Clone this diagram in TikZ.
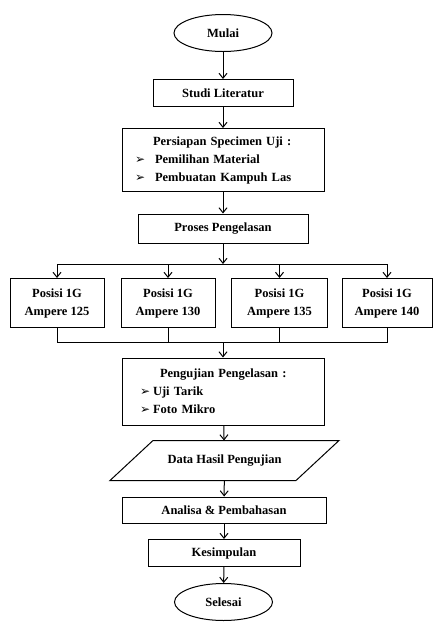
\documentclass[tikz,border=0pt]{standalone}
\usepackage{fontspec}
\setmainfont{Liberation Serif}
\newfontfamily\symfont{DejaVu Sans}
\usetikzlibrary{shapes.geometric, arrows.meta}
\def\Bul{{\symfont\bfseries\fontsize{12}{12}\selectfont ➢}}

\begin{document}
\begin{tikzpicture}[x=1pt, y=-1pt, line width=1pt]
    \tikzset{
      blok/.style={
        draw, rectangle,
        inner sep=0pt,
        font=\bfseries\fontsize{12.5}{18}\selectfont,
        align=center,
      },
      terminal/.style={
        blok, ellipse,
        minimum width=98pt, minimum height=37pt,
      },
      daftar/.style={
        blok, align=left,
        minimum width=202pt,
      },
      arr/.style={
        -{Straight Barb[length=5pt, width=8pt, line width=1pt]},
      }
    }
    \useasboundingbox (0,0) rectangle (433,625);

    % main column
    \node[terminal] (mulai) at (223,33) {Mulai};
    \node[blok, minimum width=140pt, minimum height=27pt] (studi) at (223,93) {Studi Literatur};
    \node[daftar, minimum height=63pt, text width=176pt] (persiapan) at (223,160)
        {\begin{tabular}{@{}l@{\hspace{10pt}}l@{}}
          & \hspace*{-2pt}Persiapan Specimen Uji : \\
          \Bul & Pemilihan Material \\
          \Bul & Pembuatan Kampuh Las \\
        \end{tabular}};
    \node[blok, minimum width=170pt, minimum height=29pt] (proses) at (223,228.5) {Proses Pengelasan};

    % welding positions
    \node[blok, minimum width=94pt, minimum height=49pt] (pos1) at (57,303) {Posisi 1G\\Ampere 125};
    \node[blok, minimum width=94pt, minimum height=49pt] (pos2) at (168,303) {Posisi 1G\\Ampere 130};
    \node[blok, minimum width=96pt, minimum height=49pt] (pos3) at (279.5,303) {Posisi 1G\\Ampere 135};
    \node[blok, minimum width=90pt, minimum height=49pt] (pos4) at (387,303) {Posisi 1G\\Ampere 140};

    \coordinate (cabang) at (223,264);
    \coordinate (gabung) at (223,342);

    \node[daftar, minimum height=67pt, text width=166pt] (pengujian) at (223,391.5)
        {\begin{tabular}{@{}l@{\hspace{3pt}}l@{}}
          & \hspace*{7pt}Pengujian Pengelasan : \\
          \Bul & Uji Tarik \\
          \Bul & Foto Mikro \\
        \end{tabular}};
    \node[blok, draw=none, minimum width=185pt, minimum height=39pt] (data) at (224.5,460.5) {Data Hasil Pengujian};
    \draw ([xshift=-21.5pt]data.south west) -- ([xshift=21.5pt]data.north west)
       -- ([xshift=21.5pt]data.north east) -- ([xshift=-21.5pt]data.south east) -- cycle;
    \node[blok, minimum width=204pt, minimum height=26pt] (analisa) at (224,510) {Analisa \& Pembahasan};
    \node[blok, minimum width=152pt, minimum height=27pt] (kesimpulan) at (224,553) {Kesimpulan};
    \node[terminal] (selesai) at (223.5,602) {Selesai};

    \path[arr]
        (mulai)      edge (studi)
        (studi)      edge (persiapan)
        (persiapan)  edge (proses)
        (proses)     edge (cabang)
        (gabung)     edge (pengujian)
        (pengujian)  edge (data)
        (data)       edge (analisa)
        (analisa)    edge (kesimpulan)
        (kesimpulan) edge (selesai);

    % split and merge
    \draw (pos1 |- cabang) -- (pos4 |- cabang);
    \foreach \i in {1,...,4}
        \draw[arr] (pos\i |- cabang) -- (pos\i);
    \draw (pos1) -- (pos1 |- gabung) -- (pos4 |- gabung) -- (pos4);
    \draw (pos2) -- (pos2 |- gabung);
    \draw (pos3) -- (pos3 |- gabung);
\end{tikzpicture}
\end{document}
